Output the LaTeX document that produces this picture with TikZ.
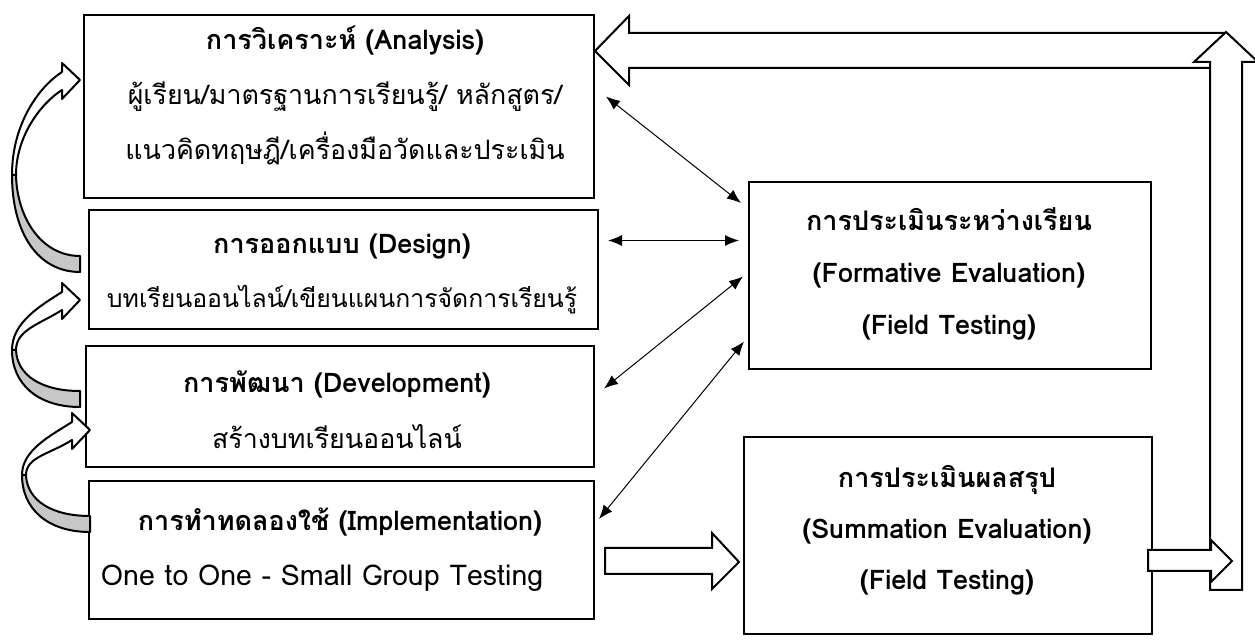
\documentclass[tikz,border=0pt]{standalone}
\usepackage{fontspec}
\newfontfamily\thaifont[Script=Thai]{Loma}
\usetikzlibrary{arrows.meta,calc}

\tikzset{
  frame/.style={draw, line width=1pt, fill=white, rectangle, inner sep=0pt, anchor=north west},
  txt/.style={font=\thaifont\fontsize{13.4}{#1}\selectfont, align=center, inner sep=0.75pt},
  btxt/.style={font=\thaifont\bfseries\fontsize{13.5}{#1}\selectfont, align=center, inner sep=0.75pt},
  twoway/.style={{Latex[length=7pt,width=5.5pt]}-{Latex[length=7pt,width=5.5pt]}, line width=0.5pt},
  blockarr/.style={draw, line width=1pt, fill=white, line join=miter},
  ribbon/.style={draw, line width=1pt, line join=round},
}

% curved ribbon arrow: tip x, tip y, tail y, turning y
\newcommand\curvarrow[4]{%
  \draw[ribbon, fill=black!22] (#1-68,#4) .. controls (#1-68,{#4+0.6*(#3-#4)}) and (#1-42,#3) .. (#1,#3) -- (#1,#3-16) .. controls (#1-38,#3-16) and (#1-63,{#4+0.45*(#3-#4)}) .. (#1-64,#4) -- cycle;
  \draw[ribbon, fill=white] (#1-68,#4) .. controls (#1-68,{#4-0.55*(#4-#2)}) and (#1-40,#2+6) .. (#1-18,#2-8) -- (#1-18,#2-17) -- (#1,#2) -- (#1-18,#2+19) -- (#1-18,#2+10) .. controls (#1-40,#2+24) and (#1-64,{#4-0.4*(#4-#2)}) .. (#1-64,#4) -- cycle;
}

\begin{document}
\begin{tikzpicture}[x=0.5pt,y=0.5pt,yscale=-1,xscale=1]
        \useasboundingbox (0,0) rectangle (1255,641);

        %Shape: Rectangle
        \node[frame, minimum width=255pt, minimum height=91.5pt] (ana) at (83,14) {};
        %Shape: Rectangle
        \node[frame, minimum width=254.5pt, minimum height=59.5pt] (des) at (88,209) {};
        %Shape: Rectangle
        \node[frame, minimum width=254pt, minimum height=60.5pt] (dev) at (85,345) {};
        %Shape: Rectangle
        \node[frame, minimum width=252.5pt, minimum height=69pt] (imp) at (88,480) {};
        %Shape: Rectangle
        \node[frame, minimum width=201pt, minimum height=93.5pt] (form) at (748,181) {};
        %Shape: Rectangle
        \node[frame, minimum width=204pt, minimum height=98.5pt] (summ) at (743,436) {};

        %Right Arrow
        \draw[blockarr] (605,548) -- (712,548) -- (712,533) -- (739,562) -- (712,589) -- (712,574) -- (605,574) -- cycle;
        %Left Arrow
        \draw[blockarr] (1226,33) -- (629,33) -- (629,16) -- (595,51) -- (629,85) -- (629,68) -- (1226,68) -- cycle;
        %Up Arrow
        \draw[blockarr] (1210,590) -- (1210,62) -- (1194,62) -- (1226,32) -- (1258,62) -- (1242,62) -- (1242,590) -- cycle;
        %Right Arrow
        \draw[blockarr] (1148,550) -- (1211,550) -- (1211,540) -- (1232,561) -- (1211,582) -- (1211,571) -- (1148,571) -- cycle;

        %Curved Right Arrows
        \curvarrow{80}{80}{272}{175}
        \curvarrow{80}{300}{407}{350}
        \curvarrow{90}{430}{532}{475}

        %Straight Lines
        \draw[twoway] ($(ana.east)+(11,-10)$) -- ($(form.north west)+(-7,22)$);
        \draw[twoway] ($(des.east)+(9,-29)$) -- ($(form.west)+(-9,-35)$);
        \draw[twoway] ($(form.west)+(-5,1)$) -- ($(dev.east)+(9,-18)$);
        \draw[twoway] ($(form.west)+(-4,66)$) -- ($(imp.east)+(4,-31)$);

        % Text Node
        \node[txt=27.5pt] (ana-t) at (345,95) {{\bfseries\fontsize{13.5}{27.5}\selectfont การวิเคราะห์ (Analysis)}\\ผู้เรียน/มาตรฐานการเรียนรู้/ หลักสูตร/\\แนวคิดทฤษฎี/เครื่องมือวัดและประเมิน};
        % Text Node
        \node[txt=27pt] (des-t) at (342,274) {{\bfseries\fontsize{13.5}{27}\selectfont การออกแบบ (Design)}\\{\fontsize{12.4}{27}\selectfont บทเรียนออนไลน์/เขียนแผนการจัดการเรียนรู้}};
        % Text Node
        \node[txt=28pt] (dev-t) at (337,410) {{\bfseries\fontsize{13.5}{28}\selectfont การพัฒนา (Development)}\\สร้างบทเรียนออนไลน์};
        % Text Node
        \node[btxt=20pt] (imp-t) at (340,522) {การทำทดลองใช้ (Implementation)};
        % Text Node
        \node[txt=20pt, anchor=west, font=\thaifont\fontsize{14.3}{20}\selectfont] (imp-s) at (99,578) {One to One - Small Group Testing};
        % Text Node
        \node[btxt=26pt] (form-t) at (949,274) {การประเมินระหว่างเรียน\\(Formative Evaluation)\\(Field Testing)};
        % Text Node
        \node[btxt=25.5pt] (summ-t) at (947,530) {การประเมินผลสรุป\\(Summation Evaluation)\\(Field Testing)};
\end{tikzpicture}
\end{document}
